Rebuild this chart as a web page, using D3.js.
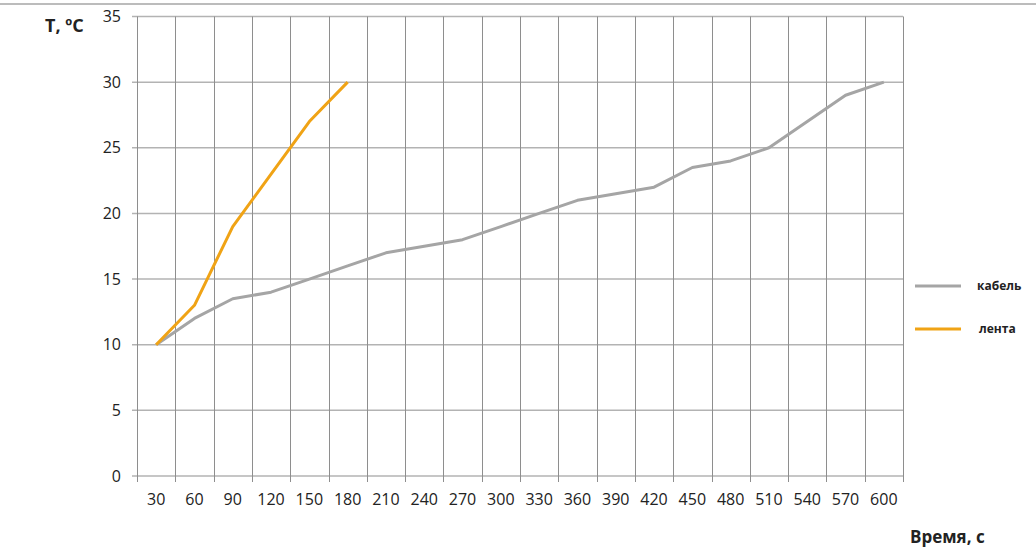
<!DOCTYPE html>
<html>
<head>
<meta charset="utf-8">
<script src="https://cdn.jsdelivr.net/npm/d3@7"></script>
<style>
  body { margin: 0; background: #fff; }
  text { font-family: "Open Sans", "Liberation Sans", sans-serif; fill: #222; }
</style>
</head>
<body>
<div id="chart"></div>
<script>
// time, s
const times = [30, 60, 90, 120, 150, 180, 210, 240, 270, 300, 330, 360, 390, 420, 450, 480, 510, 540, 570, 600];
// temperature, deg C
const cable = [10, 12, 13.5, 14, 15, 16, 17, 17.5, 18, 19, 20, 21, 21.5, 22, 23.5, 24, 25, 27, 29, 30];
const tape = [10, 13, 19, 23, 27, 30];
const yTicks = [0, 5, 10, 15, 20, 25, 30, 35];
const seriesNames = ["кабель", "лента"];

const width = 1036, height = 549;
const margin = { top: 16.5, right: 133, bottom: 73, left: 137 };
const colors = { cable: "#a5a5a5", tape: "#f0a315" };

const svg = d3.select("#chart")
  .append("svg")
  .attr("width", width)
  .attr("height", height);

// grey rule across the top
svg.append("rect")
  .attr("x", 0).attr("y", 3)
  .attr("width", width).attr("height", 2)
  .attr("fill", "#bcbcbc");

const x = d3.scaleBand()
  .domain(times)
  .range([margin.left, width - margin.right])
  .padding(0);

const y = d3.scaleLinear()
  .domain([0, 35])
  .range([height - margin.bottom, margin.top]);

const xEdges = times.map(t => x(t)).concat([x(times[times.length - 1]) + x.bandwidth()]);

// horizontal grid + y tick marks
svg.append("g")
  .selectAll("line")
  .data(yTicks)
  .enter()
  .append("line")
  .attr("x1", margin.left - 5)
  .attr("x2", width - margin.right)
  .attr("y1", d => y(d))
  .attr("y2", d => y(d))
  .attr("stroke", "#b3b3b3")
  .attr("stroke-width", 1.5);

// vertical grid, carried down as tick marks
svg.append("g")
  .selectAll("line")
  .data(xEdges)
  .enter()
  .append("line")
  .attr("x1", d => Math.round(d) + 0.5)
  .attr("x2", d => Math.round(d) + 0.5)
  .attr("y1", y(35))
  .attr("y2", y(0) + 6)
  .attr("stroke", "#8e8e8e")
  .attr("stroke-width", 1);

// y labels
svg.append("g")
  .selectAll("text")
  .data(yTicks)
  .enter()
  .append("text")
  .attr("x", 121)
  .attr("y", d => y(d))
  .attr("dy", "0.35em")
  .attr("text-anchor", "end")
  .style("font-size", "16px")
  .text(d => d);

// x labels
svg.append("g")
  .selectAll("text")
  .data(times)
  .enter()
  .append("text")
  .attr("x", d => x(d) + x.bandwidth() / 2)
  .attr("y", y(0) + 29)
  .attr("text-anchor", "middle")
  .style("font-size", "16px")
  .text(d => d);

const line = d3.line()
  .x((d, i) => x(times[i]) + x.bandwidth() / 2)
  .y(d => y(d));

svg.append("path")
  .datum(cable)
  .attr("d", line)
  .attr("fill", "none")
  .attr("stroke", colors.cable)
  .attr("stroke-width", 3)
  .attr("stroke-linejoin", "round");

svg.append("path")
  .datum(tape)
  .attr("d", line)
  .attr("fill", "none")
  .attr("stroke", colors.tape)
  .attr("stroke-width", 3)
  .attr("stroke-linejoin", "round");

// axis titles
svg.append("text")
  .attr("x", 45).attr("y", 32)
  .style("font-size", "18px")
  .style("font-weight", "bold")
  .text("T, ºC");

svg.append("text")
  .attr("x", 910).attr("y", 543)
  .style("font-size", "17px")
  .style("font-weight", "bold")
  .text("Время, с");

// legend
const legend = svg.append("g")
  .selectAll("g")
  .data(seriesNames)
  .enter()
  .append("g")
  .attr("transform", (d, i) => `translate(915,${286 + i * 43})`);

legend.append("line")
  .attr("x1", 0).attr("x2", 46)
  .attr("stroke", (d, i) => i === 0 ? colors.cable : colors.tape)
  .attr("stroke-width", 3);

legend.append("text")
  .attr("x", (d, i) => i === 0 ? 62 : 64)
  .attr("dy", "0.35em")
  .style("font-size", "12px")
  .style("font-weight", "bold")
  .text(d => d);
</script>
</body>
</html>
